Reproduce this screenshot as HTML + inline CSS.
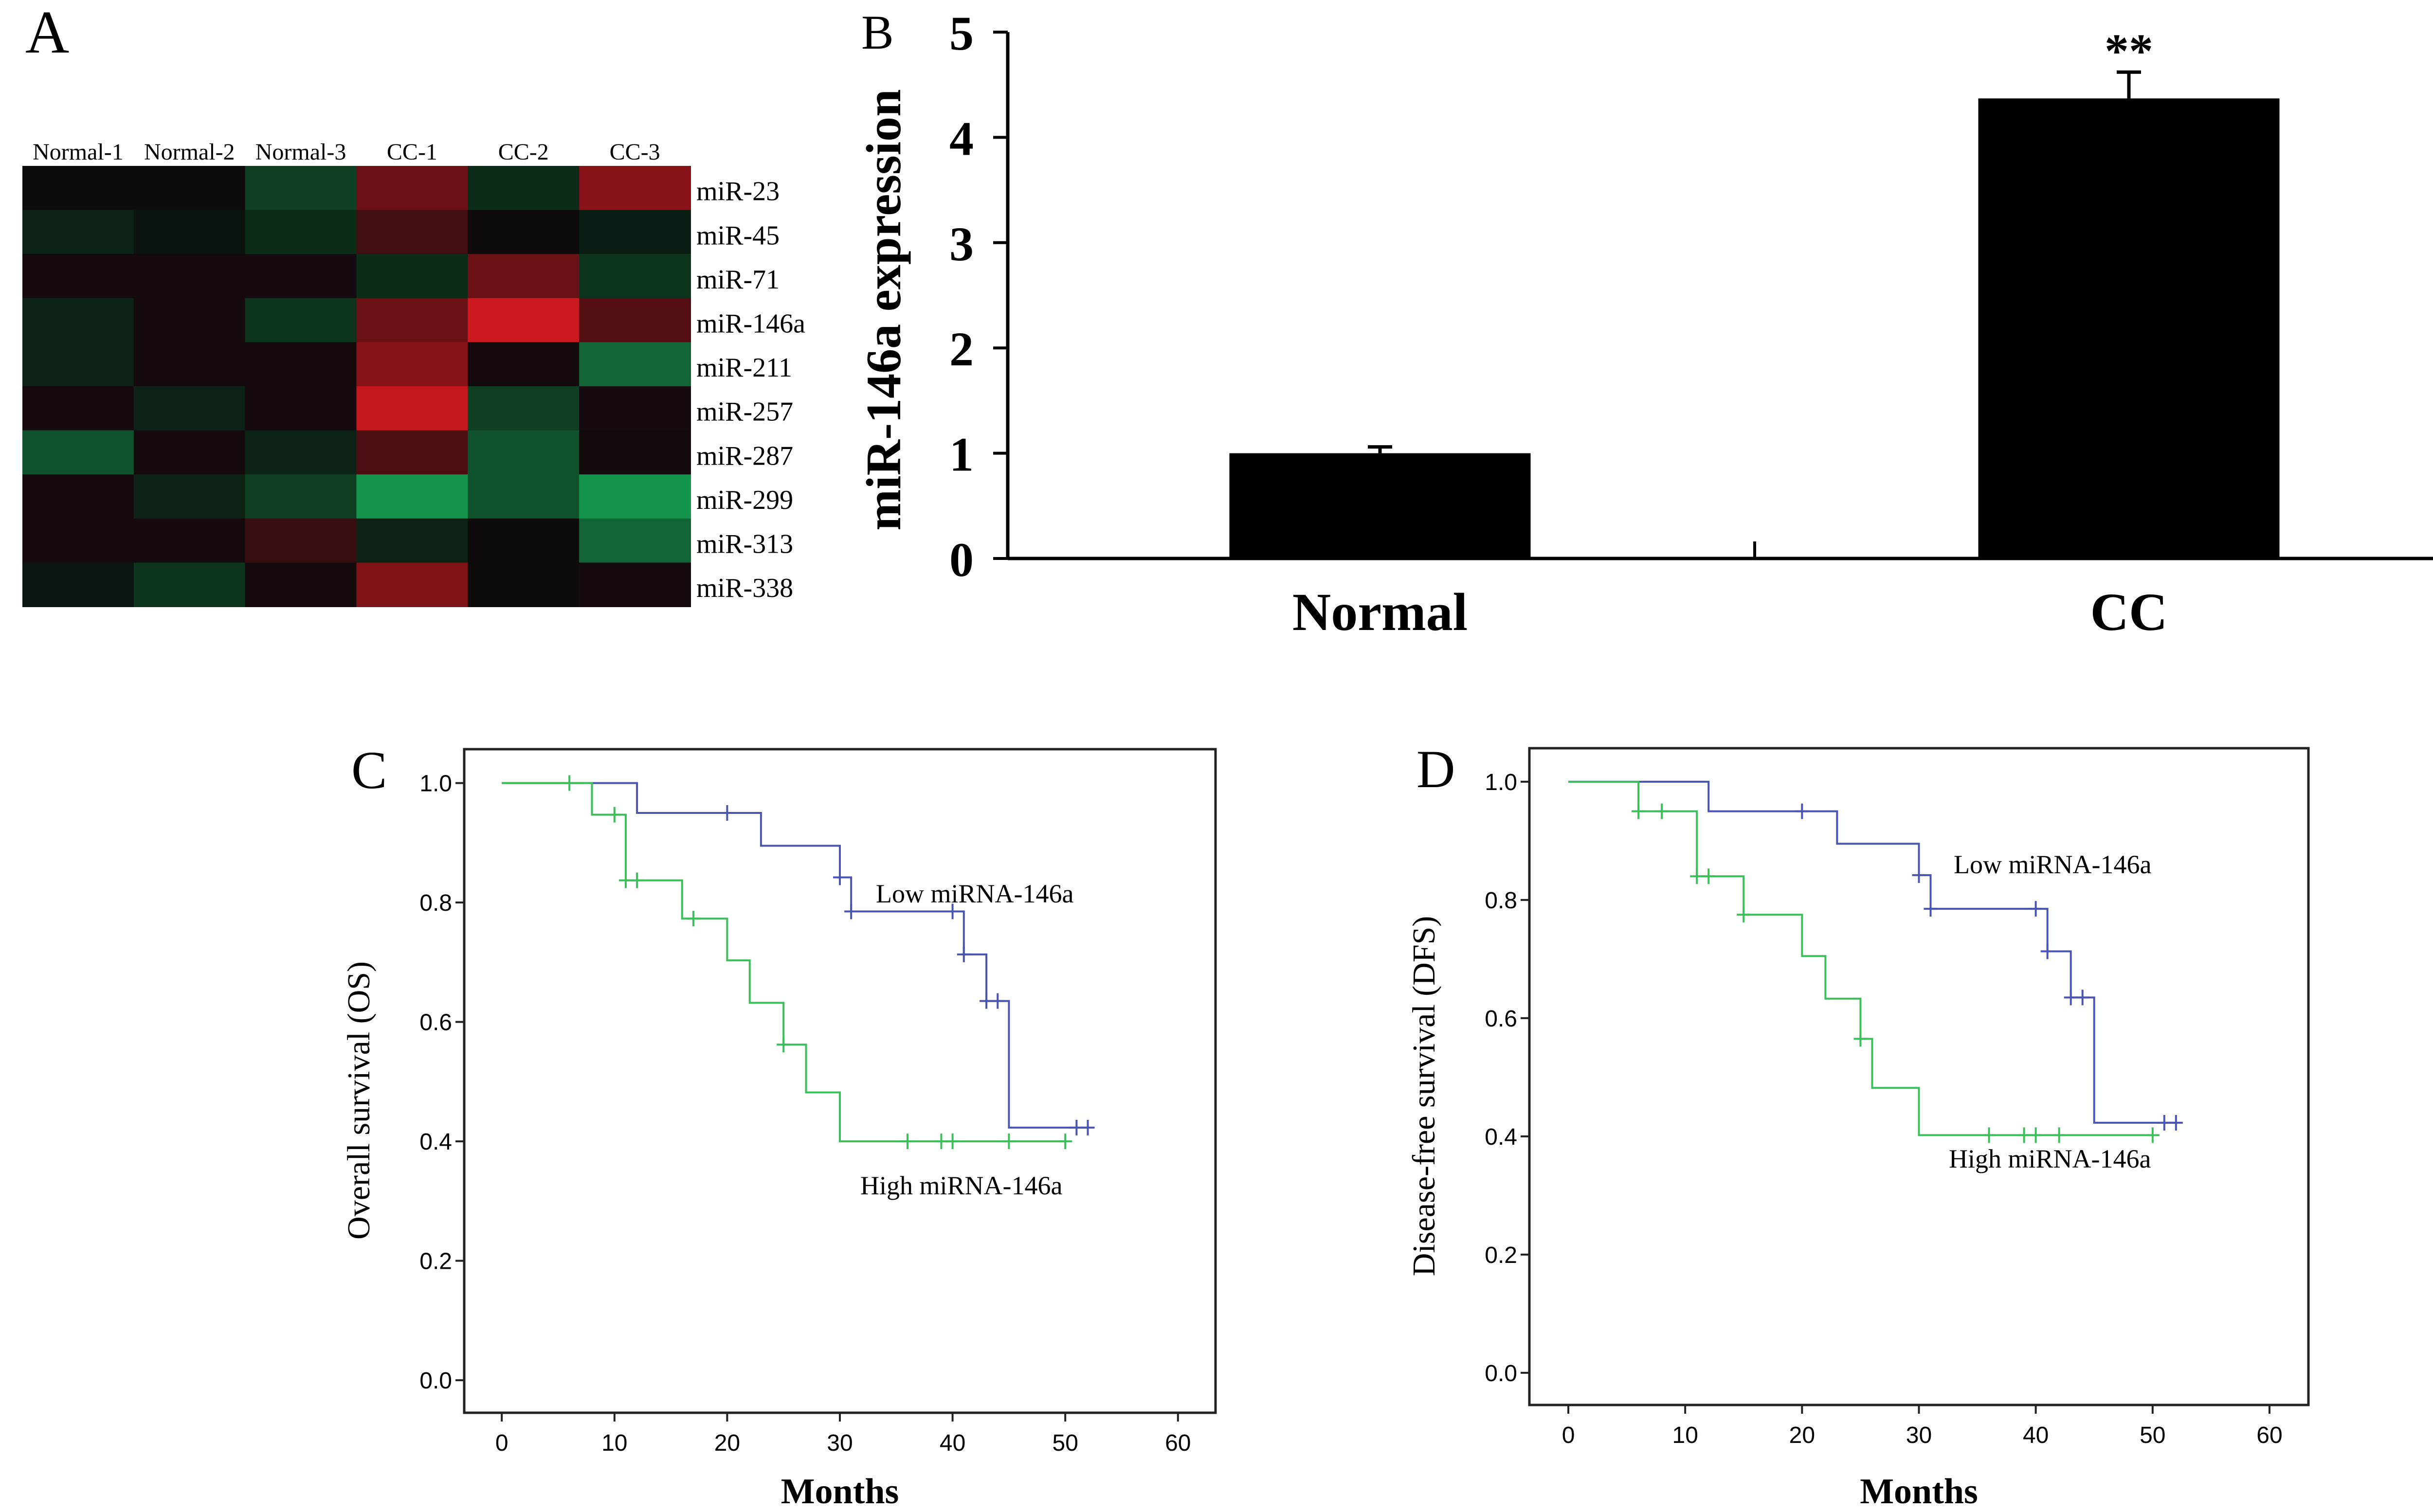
<!DOCTYPE html>
<html><head><meta charset="utf-8"><style>
html,body{margin:0;padding:0;background:#fff;}
svg{display:block;}
</style></head><body>
<svg id="fig" xmlns="http://www.w3.org/2000/svg" width="5160" height="3108" viewBox="0 0 5160 3108" font-family="'Liberation Serif', serif">
<rect width="5160" height="3108" fill="#fff"/>
<text x="52" y="108" font-size="125">A</text>
<g id="heat"></g>
<g id="bar"></g>
<g id="kmC"></g>
<g id="kmD"></g>
</svg>
<script>
const NS="http://www.w3.org/2000/svg";
function mk(parent,tag,attrs,text){const e=document.createElementNS(NS,tag);for(const k in attrs)e.setAttribute(k,attrs[k]);if(text!==undefined)e.textContent=text;parent.appendChild(e);return e;}

// ---------- Heatmap data ----------
const heatCols=["Normal-1","Normal-2","Normal-3","CC-1","CC-2","CC-3"];
const heatRows=["miR-23","miR-45","miR-71","miR-146a","miR-211","miR-257","miR-287","miR-299","miR-313","miR-338"];
const heatVals=[
[0,0,-0.25,0.45,-0.15,0.6],
[-0.1,-0.02,-0.15,0.25,0,-0.08],
[0.03,0.03,0.03,-0.15,0.45,-0.2],
[-0.1,0.03,-0.2,0.45,0.95,0.35],
[-0.1,0.03,0.03,0.6,0.03,-0.45],
[0.03,-0.1,0.03,0.9,-0.25,0.03],
[-0.35,0.03,-0.1,0.3,-0.35,0.02],
[0.03,-0.1,-0.25,-0.7,-0.35,-0.7],
[0.03,0.03,0.2,-0.1,0,-0.45],
[-0.03,-0.2,0.03,0.55,0,0.03]];

// ---------- Bar data ----------
const barCats=["Normal","CC"];
const barVals=[1.0,4.37];
const barErr=[0.06,0.25];
const barTicks=[0,1,2,3,4,5];

// ---------- KM data ----------
const kmXTicks=[0,10,20,30,40,50,60];
const kmYTicks=[0.0,0.2,0.4,0.6,0.8,1.0];
const osLowT=[0,12,23,30,31,41,43,45,52];
const osLowS=[1.0,0.95,0.895,0.842,0.785,0.713,0.635,0.423,0.423];
const osLowCensT=[20,30,31,40,41,43,44,51,52];
const osHighT=[0,8,11,16,20,22,25,27,30,50];
const osHighS=[1.0,0.947,0.837,0.773,0.703,0.632,0.562,0.482,0.40,0.40];
const osHighCensT=[6,10,11,12,17,25,36,39,40,45,50];
const dfsLowT=[0,12,23,30,31,41,43,45,52];
const dfsLowS=[1.0,0.95,0.895,0.842,0.785,0.713,0.635,0.423,0.423];
const dfsLowCensT=[20,30,31,40,41,43,44,51,52];
const dfsHighT=[0,6,11,15,20,22,25,26,30,50];
const dfsHighS=[1.0,0.95,0.84,0.775,0.705,0.633,0.565,0.482,0.402,0.402];
const dfsHighCensT=[6,8,11,12,15,25,36,39,40,42,50];

// ---------- Heatmap ----------
(function(){
 const g=document.getElementById('heat');
 const L=46,T=341,W=1373,H=906,cw=W/heatCols.length,rh=H/heatRows.length;
 function col(v){if(v>=0)return `rgb(${Math.round(15+200*v)},${Math.round(10+15*v)},${Math.round(12+20*v)})`;const a=-v;return `rgb(${Math.round(10+15*a)},${Math.round(15+190*a)},${Math.round(12+90*a)})`;}
 heatRows.forEach((r,i)=>{heatCols.forEach((c,j)=>{
  const e=mk(g,'rect',{x:L+j*cw,y:T+i*rh,width:cw+1,height:rh+1,fill:col(heatVals[i][j])});
  
  
 });
  const t=mk(g,'text',{x:L+W+12,y:T+i*rh+rh*0.78,'font-size':56},r);
  
  
 });
 heatCols.forEach((c,j)=>{
  const t=mk(g,'text',{x:L+j*cw+cw/2,y:328,'font-size':48,'text-anchor':'middle'},c);
  
  
 });
})();

// ---------- Bar chart ----------
(function(){
 const g=document.getElementById('bar');
 const x0=2071,x1=5144,y0=1148,yTop=66;
 const ys=v=>y0-(y0-yTop)*v/5;
 const centers=[2836,4375],bw=619;
 mk(g,'text',{x:1770,y:100,'font-size':100},'B');
 mk(g,'line',{x1:x0,y1:y0,x2:x0,y2:yTop,stroke:'#000','stroke-width':7});
 mk(g,'line',{x1:x0,y1:y0,x2:x1,y2:y0,stroke:'#000','stroke-width':7});
 mk(g,'line',{x1:3606,y1:y0,x2:3606,y2:y0-35,stroke:'#000','stroke-width':6});
 mk(g,'line',{x1:x1,y1:y0,x2:x1,y2:y0-35,stroke:'#000','stroke-width':6});
 barTicks.forEach(t=>{
  mk(g,'line',{x1:x0-30,y1:ys(t),x2:x0,y2:ys(t),stroke:'#000','stroke-width':6});
  const e=mk(g,'text',{x:x0-95,y:ys(t)+36,'font-size':100,'font-weight':'bold','text-anchor':'middle'},String(t));
  
  
 });
 barCats.forEach((c,i)=>{
  const b=mk(g,'rect',{x:centers[i]-bw/2,y:ys(barVals[i]),width:bw,height:y0-ys(barVals[i]),fill:'#000'});
  
  
  const ye=ys(barVals[i]+barErr[i]);
  mk(g,'line',{x1:centers[i],y1:ys(barVals[i]),x2:centers[i],y2:ye,stroke:'#000','stroke-width':7});
  mk(g,'line',{x1:centers[i]-25,y1:ye,x2:centers[i]+25,y2:ye,stroke:'#000','stroke-width':7});
  const t=mk(g,'text',{x:centers[i],y:1295,'font-size':110,'font-weight':'bold','text-anchor':'middle'},c);
  
  
 });
 mk(g,'text',{x:centers[1],y:ys(barVals[1]+barErr[1])-10,'font-size':100,'font-weight':'bold','text-anchor':'middle'},'**');
 const yl=mk(g,'text',{x:0,y:0,'font-size':102,'font-weight':'bold','text-anchor':'middle',transform:'translate(1850,637) rotate(-90)'},'miR-146a expression');
 
 
})();

// ---------- KM plots ----------
function km(id,box,label,ylabel,curves,lowLbl,highLbl){
 const g=document.getElementById(id);
 const [L,T,R,B]=box,W=R-L,H=B-T;
 const xs=v=>L+W*(0.05+0.9*v/60);
 const ys=v=>T+H*(0.951-0.9*v);
 mk(g,'rect',{x:L,y:T,width:W,height:H,fill:'none',stroke:'#222','stroke-width':5});
 mk(g,'text',{x:L-232,y:T+80,'font-size':110},label);
 kmXTicks.forEach(t=>{
  mk(g,'line',{x1:xs(t),y1:B,x2:xs(t),y2:B+18,stroke:'#222','stroke-width':4});
  const e=mk(g,'text',{x:xs(t),y:B+78,'font-size':48,'font-family':"'Liberation Sans', sans-serif",'text-anchor':'middle'},String(t));
  
  
 });
 kmYTicks.forEach(t=>{
  mk(g,'line',{x1:L-18,y1:ys(t),x2:L,y2:ys(t),stroke:'#222','stroke-width':4});
  const e=mk(g,'text',{x:L-25,y:ys(t)+17,'font-size':48,'font-family':"'Liberation Sans', sans-serif",'text-anchor':'end'},t.toFixed(1));
  
  
 });
 curves.forEach(c=>{
  let d=`M${xs(c.t[0])},${ys(c.s[0])}`;
  for(let i=1;i<c.t.length;i++){d+=` H${xs(c.t[i])} V${ys(c.s[i])}`;}
  const p=mk(g,'path',{d:d,fill:'none',stroke:c.color,'stroke-width':4});
  
  
  c.cens.forEach(ct=>{
   let s=c.s[0];for(let i=0;i<c.t.length;i++){if(c.t[i]<=ct)s=c.s[i];}
   const m=mk(g,'path',{d:`M${xs(ct)-14},${ys(s)} h28 M${xs(ct)},${ys(s)-16} v32`,stroke:c.color,'stroke-width':4});
   
   
  });
 });
 const t1=mk(g,'text',{x:lowLbl[0],y:lowLbl[1],'font-size':54},'Low miRNA-146a');
 
 const t2=mk(g,'text',{x:highLbl[0],y:highLbl[1],'font-size':54},'High miRNA-146a');
 
 const xt=mk(g,'text',{x:xs(30),y:3090,'font-size':74,'font-weight':'bold','text-anchor':'middle'},'Months');
 
 const yt=mk(g,'text',{x:0,y:0,'font-size':66,'text-anchor':'middle',transform:`translate(${L-195},${(T+B)/2+40}) rotate(-90)`},ylabel);
 
}
km('kmC',[954,1540,2498,2904],'C','Overall survival (OS)',[
 {t:osLowT,s:osLowS,cens:osLowCensT,color:'#4a55b0',name:'low-curve'},
 {t:osHighT,s:osHighS,cens:osHighCensT,color:'#3cbf5a',name:'high-curve'}],[1800,1855],[1768,2455]);
km('kmD',[3143,1538,4744,2888],'D','Disease-free survival (DFS)',[
 {t:dfsLowT,s:dfsLowS,cens:dfsLowCensT,color:'#4a55b0',name:'low-curve'},
 {t:dfsHighT,s:dfsHighS,cens:dfsHighCensT,color:'#3cbf5a',name:'high-curve'}],[4015,1795],[4005,2400]);
</script>
</body></html>
